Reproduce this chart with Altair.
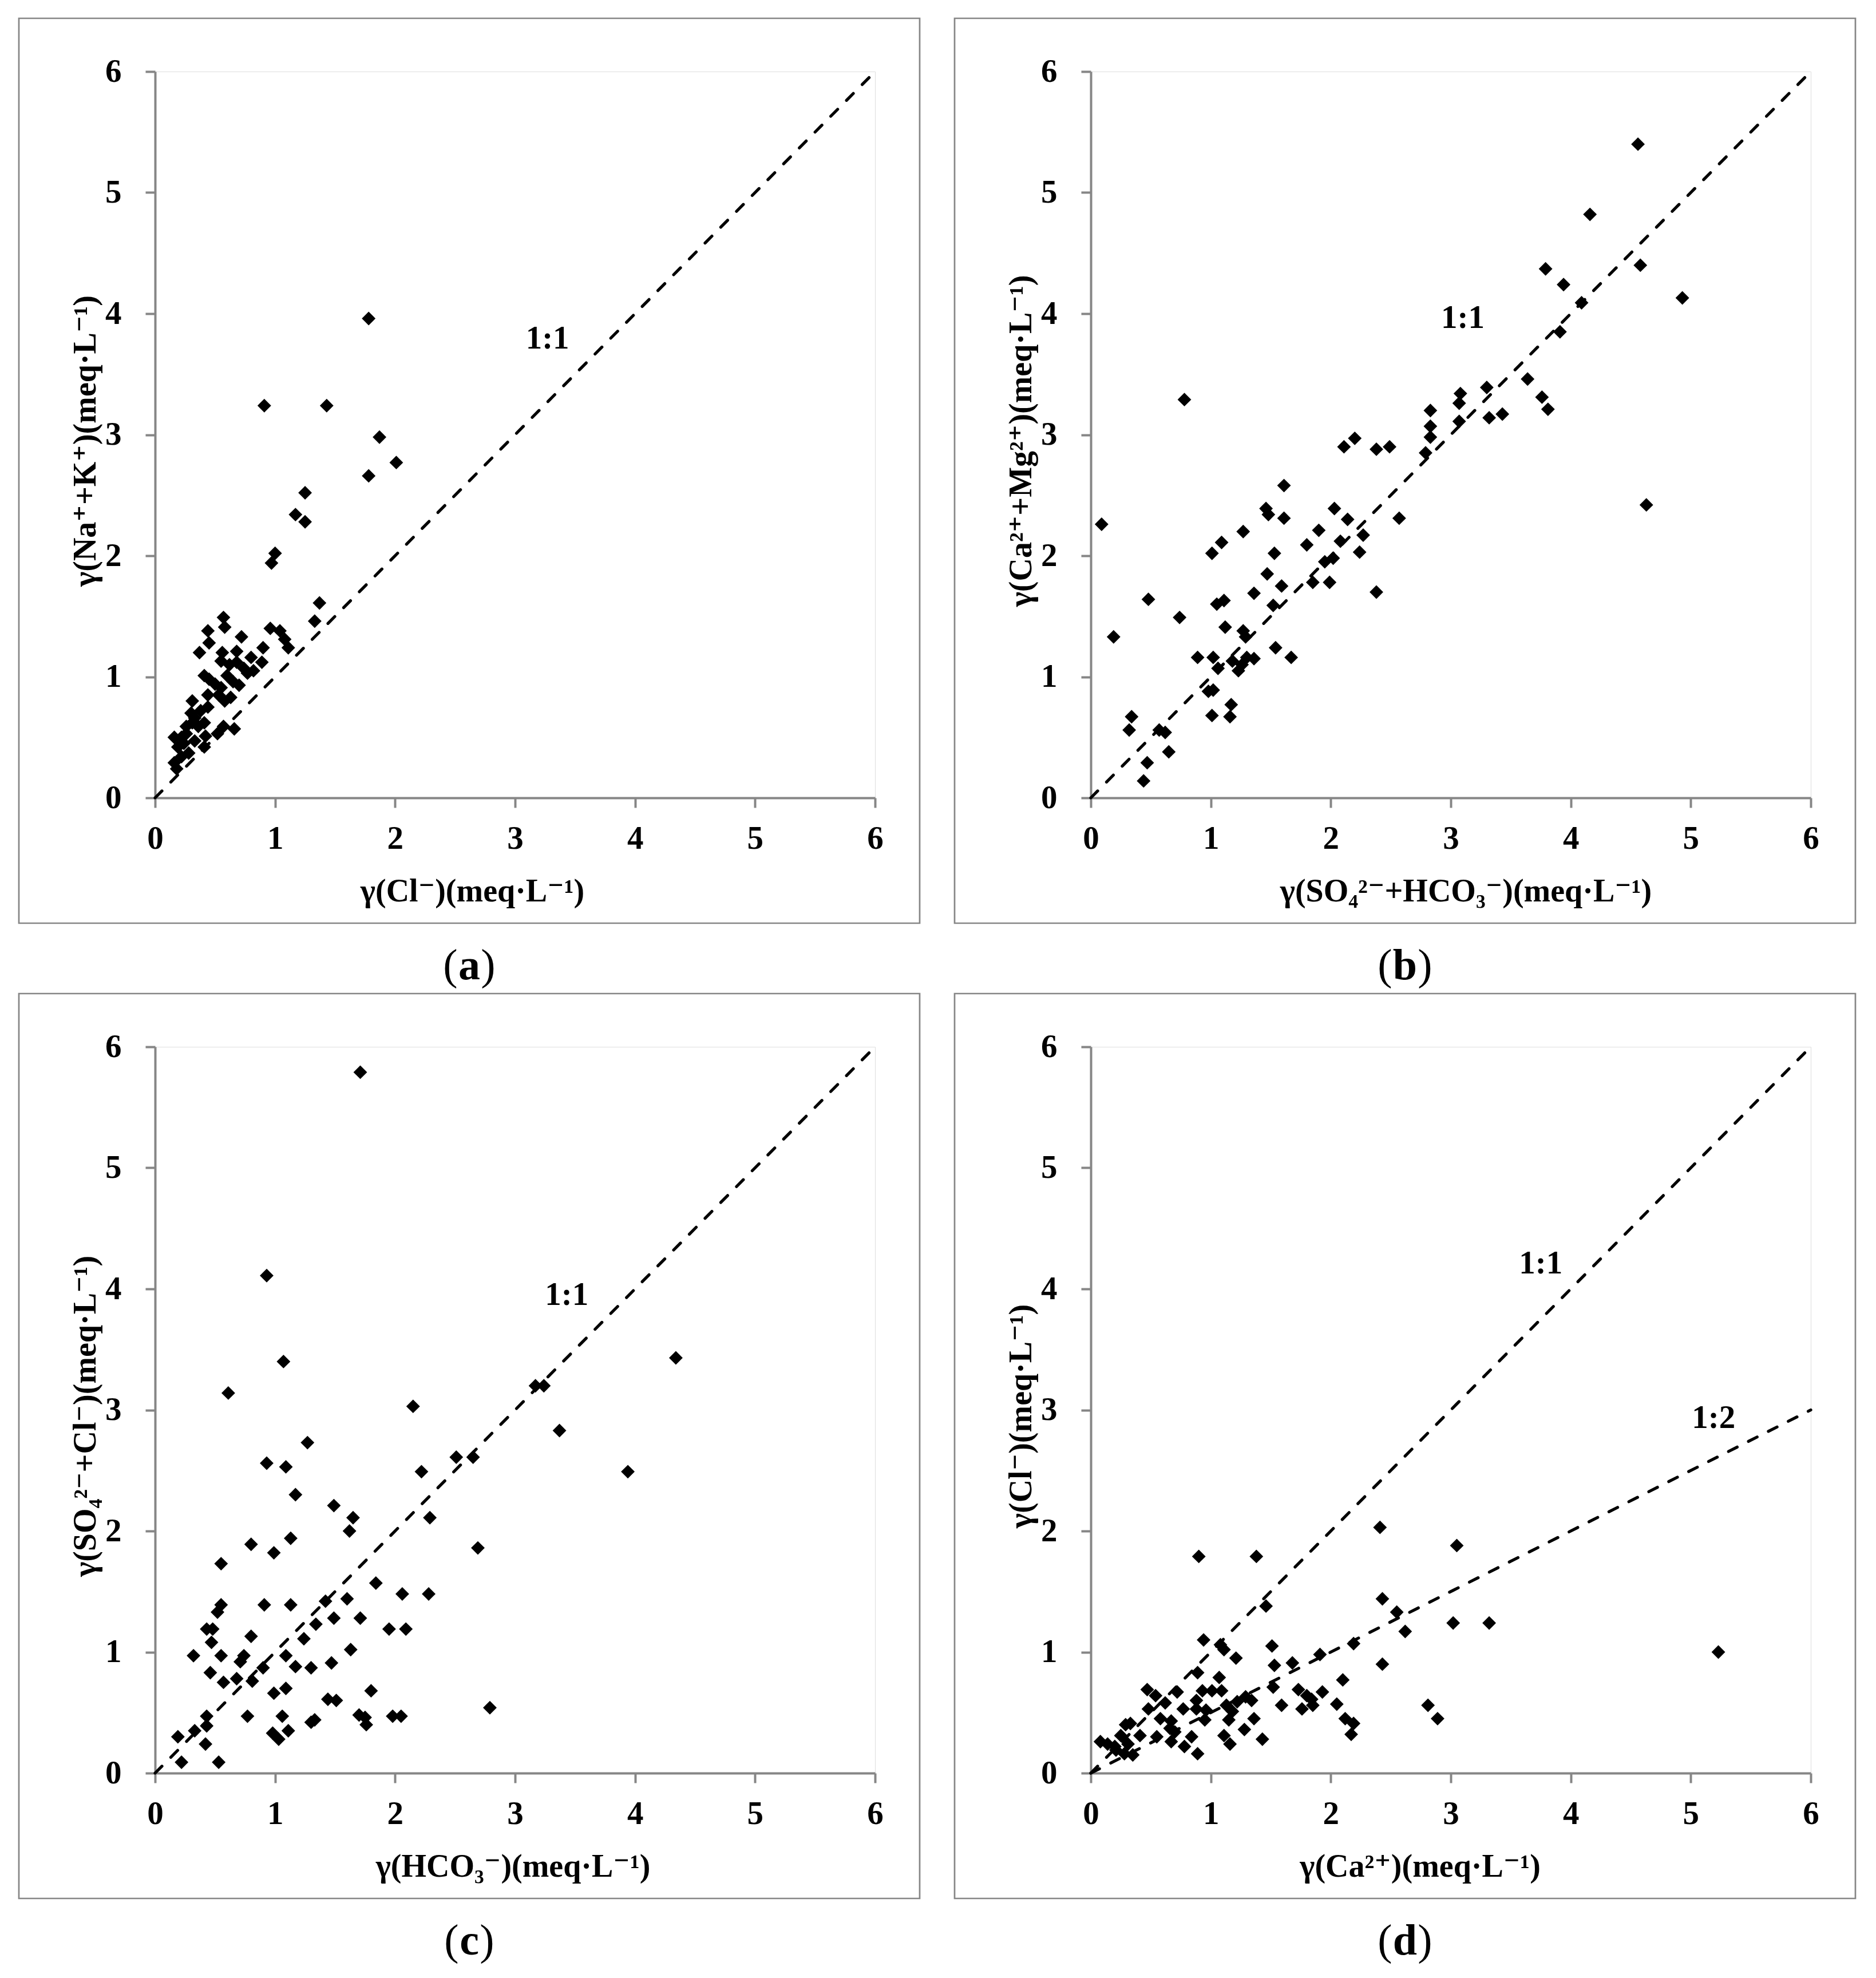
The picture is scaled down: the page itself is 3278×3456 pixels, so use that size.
import altair as alt
import pandas as pd

TICKS = [0, 1, 2, 3, 4, 5, 6]

# ---------------- data ----------------
a_points = [
    (0.91, 3.24), (1.43, 3.24), (1.78, 3.96), (1.87, 2.98), (1.78, 2.66), (2.01, 2.77),
    (1.25, 2.52), (1.17, 2.34), (1.25, 2.28), (1.00, 2.02), (0.97, 1.94),
    (1.37, 1.61), (1.33, 1.46), (0.96, 1.40), (1.04, 1.38), (1.08, 1.31), (1.11, 1.24),
    (0.57, 1.49), (0.58, 1.41), (0.44, 1.38), (0.45, 1.28), (0.72, 1.33), (0.37, 1.20),
    (0.56, 1.20), (0.68, 1.21), (0.90, 1.24), (0.80, 1.16), (0.89, 1.12), (0.82, 1.05),
    (0.55, 1.13), (0.62, 1.10), (0.68, 1.12), (0.74, 1.07), (0.77, 1.03), (0.41, 1.01),
    (0.45, 0.98), (0.50, 0.94), (0.60, 1.01), (0.65, 0.96), (0.70, 0.93), (0.55, 0.91),
    (0.44, 0.85), (0.58, 0.80), (0.63, 0.83), (0.53, 0.85), (0.31, 0.80), (0.38, 0.72),
    (0.44, 0.75), (0.30, 0.70), (0.31, 0.62), (0.26, 0.53), (0.41, 0.62), (0.36, 0.59),
    (0.57, 0.59), (0.66, 0.57), (0.52, 0.53), (0.42, 0.51), (0.16, 0.50), (0.24, 0.45),
    (0.33, 0.47), (0.41, 0.42), (0.19, 0.42), (0.16, 0.29), (0.18, 0.24), (0.22, 0.34),
    (0.28, 0.37), (0.22, 0.50), (0.26, 0.59), (0.33, 0.66),
]

b_points = [
    (0.09, 2.26), (0.19, 1.33), (0.32, 0.56), (0.34, 0.67), (0.48, 1.64), (0.47, 0.29),
    (0.44, 0.14), (0.57, 0.56), (0.62, 0.54), (0.65, 0.38), (0.74, 1.49), (0.78, 3.29),
    (0.89, 1.16), (0.98, 0.88), (1.02, 0.89), (1.02, 1.16), (1.01, 0.68), (1.01, 2.02),
    (1.09, 2.11), (1.05, 1.60), (1.11, 1.63), (1.06, 1.07), (1.12, 1.41), (1.18, 1.13),
    (1.17, 0.77), (1.16, 0.67), (1.23, 1.05), (1.26, 1.10), (1.27, 2.20), (1.27, 1.38),
    (1.29, 1.33), (1.30, 1.16), (1.36, 1.15), (1.36, 1.69), (1.46, 2.39), (1.48, 2.34),
    (1.47, 1.85), (1.53, 2.02), (1.52, 1.59), (1.54, 1.24), (1.59, 1.75), (1.61, 2.58),
    (1.61, 2.31), (1.67, 1.16), (1.80, 2.09), (1.85, 1.78), (1.90, 2.21), (1.95, 1.95),
    (1.99, 1.78), (2.02, 1.98), (2.03, 2.39), (2.08, 2.12), (2.11, 2.90), (2.20, 2.97),
    (2.14, 2.30), (2.27, 2.17), (2.24, 2.03), (2.38, 1.70), (2.38, 2.88), (2.49, 2.90),
    (2.57, 2.31), (2.79, 2.85), (2.83, 2.98), (2.83, 3.07), (2.83, 3.20), (3.07, 3.26),
    (3.08, 3.34), (3.07, 3.11), (3.30, 3.39), (3.32, 3.14), (3.43, 3.17), (3.64, 3.46),
    (3.76, 3.31), (3.81, 3.21), (3.79, 4.37), (3.91, 3.85), (3.94, 4.24), (4.09, 4.09),
    (4.16, 4.82), (4.56, 5.40), (4.58, 4.40), (4.63, 2.42), (4.93, 4.13),
]

c_points = [
    (1.71, 5.79), (0.93, 4.11), (1.07, 3.40), (0.61, 3.14), (2.15, 3.03), (3.17, 3.20),
    (3.24, 3.20), (4.34, 3.43), (3.37, 2.83), (3.94, 2.49), (1.27, 2.73), (0.93, 2.56),
    (1.09, 2.53), (2.51, 2.61), (2.65, 2.61), (2.22, 2.49), (1.17, 2.30), (1.49, 2.21),
    (1.65, 2.11), (2.29, 2.11), (1.62, 2.00), (1.13, 1.94), (0.80, 1.89), (0.99, 1.82),
    (2.69, 1.86), (0.55, 1.73), (1.84, 1.57), (2.06, 1.48), (2.28, 1.48), (1.42, 1.42),
    (1.60, 1.44), (0.91, 1.39), (1.13, 1.39), (0.55, 1.39), (0.52, 1.33), (1.49, 1.28),
    (1.71, 1.28), (1.34, 1.23), (1.95, 1.19), (2.09, 1.19), (0.43, 1.19), (0.48, 1.19),
    (0.80, 1.13), (1.24, 1.11), (0.47, 1.08), (1.63, 1.02), (0.32, 0.97), (0.55, 0.97),
    (0.74, 0.97), (1.09, 0.97), (0.71, 0.92), (1.47, 0.91), (0.90, 0.87), (1.17, 0.88),
    (1.30, 0.87), (0.46, 0.83), (0.57, 0.75), (0.68, 0.78), (0.81, 0.76), (0.99, 0.66),
    (1.80, 0.68), (1.09, 0.70), (1.44, 0.61), (1.51, 0.60), (2.79, 0.54), (1.70, 0.48),
    (1.75, 0.46), (1.98, 0.47), (2.05, 0.47), (0.77, 0.47), (1.06, 0.47), (0.43, 0.47),
    (1.30, 0.42), (1.33, 0.44), (1.76, 0.40), (1.11, 0.35), (0.98, 0.33), (1.03, 0.28),
    (0.19, 0.30), (0.33, 0.35), (0.43, 0.39), (0.42, 0.24), (0.22, 0.09), (0.53, 0.09),
]

d_points = [
    (5.23, 1.00), (2.41, 2.03), (3.05, 1.88), (0.90, 1.79), (1.38, 1.79), (2.43, 1.44),
    (1.46, 1.38), (2.55, 1.33), (3.02, 1.24), (3.32, 1.24), (2.62, 1.17), (0.94, 1.10),
    (1.11, 1.02), (1.08, 1.06), (1.51, 1.05), (1.21, 0.95), (1.53, 0.89), (1.68, 0.91),
    (1.91, 0.98), (2.19, 1.07), (2.43, 0.90), (0.89, 0.83), (1.07, 0.79), (2.10, 0.77),
    (1.52, 0.71), (1.73, 0.69), (1.80, 0.64), (1.84, 0.61), (1.85, 0.56), (1.93, 0.67),
    (2.05, 0.57), (2.81, 0.56), (2.89, 0.45), (1.59, 0.56), (1.76, 0.53), (2.12, 0.45),
    (2.19, 0.41), (2.17, 0.32), (1.36, 0.45), (1.28, 0.36), (1.43, 0.28), (1.16, 0.24),
    (1.11, 0.31), (1.15, 0.44), (1.18, 0.51), (1.13, 0.56), (1.22, 0.59), (1.29, 0.63),
    (1.34, 0.60), (0.93, 0.68), (1.01, 0.68), (1.09, 0.68), (0.88, 0.60), (0.96, 0.52),
    (0.95, 0.44), (0.88, 0.53), (0.77, 0.53), (0.72, 0.67), (0.47, 0.69), (0.54, 0.64),
    (0.62, 0.58), (0.48, 0.53), (0.58, 0.45), (0.67, 0.43), (0.66, 0.37), (0.70, 0.34),
    (0.55, 0.30), (0.67, 0.26), (0.78, 0.22), (0.84, 0.30), (0.89, 0.16), (0.41, 0.31),
    (0.29, 0.40), (0.33, 0.41), (0.25, 0.31), (0.08, 0.26), (0.14, 0.24), (0.21, 0.19),
    (0.31, 0.24), (0.35, 0.15), (0.28, 0.16), (0.20, 0.22),
]

# reference lines (name, x, y end points)
a_lines = [("1:1", 0, 0), ("1:1", 6, 6)]
b_lines = [("1:1", 0, 0), ("1:1", 6, 6)]
c_lines = [("1:1", 0, 0), ("1:1", 6, 6)]
d_lines = [("1:1", 0, 0), ("1:1", 6, 6), ("1:2", 0, 0), ("1:2", 6, 3)]

# line labels (text, x, y)
a_labels = [("1:1", 3.27, 3.79)]
b_labels = [("1:1", 3.10, 3.96)]
c_labels = [("1:1", 3.43, 3.95)]
d_labels = [("1:1", 3.75, 4.21), ("1:2", 5.19, 2.93)]

a_titles = ("γ(Cl⁻)(meq·L⁻¹)", "γ(Na⁺+K⁺)(meq·L⁻¹)")
b_titles = ("γ(SO₄²⁻+HCO₃⁻)(meq·L⁻¹)", "γ(Ca²⁺+Mg²⁺)(meq·L⁻¹)")
c_titles = ("γ(HCO₃⁻)(meq·L⁻¹)", "γ(SO₄²⁻+Cl⁻)(meq·L⁻¹)")
d_titles = ("γ(Ca²⁺)(meq·L⁻¹)", "γ(Cl⁻)(meq·L⁻¹)")

# ---------------- styling / layout ----------------
FONT = "Liberation Serif, DejaVu Serif, serif"
GRAY = "#868686"
W, H = 1258, 1269


def panel(points, lines, labels, titles, xtitle_x, letter, lw):
    xtitle, ytitle = titles
    sx = alt.Scale(domain=[0, 6], nice=False)
    sy = alt.Scale(domain=[0, 6], nice=False)
    common = dict(
        values=TICKS, grid=False, domainColor=GRAY, domainWidth=4,
        tickColor=GRAY, tickWidth=4, tickSize=17,
        labelFont=FONT, labelFontSize=57, labelFontWeight="bold", labelColor="black",
        labelFlush=False, labelOverlap=False, format="d",
        titleFont=FONT, titleFontSize=56, titleFontWeight="bold", titleColor="black",
    )
    xaxis = alt.Axis(title=xtitle, labelPadding=54, labelBaseline="middle",
                     titleX=xtitle_x, titleY=163, titleAlign="center",
                     titleBaseline="middle", **common)
    yaxis = alt.Axis(title=ytitle, labelPadding=42, titleX=-122, titleY=645,
                     titleAngle=270, titleAlign="center", titleBaseline="middle",
                     **common)
    X = alt.X("x:Q", scale=sx, axis=xaxis)
    Y = alt.Y("y:Q", scale=sy, axis=yaxis)

    one = pd.DataFrame({"k": [0]})
    frame = alt.Chart(one).mark_rect(opacity=0).encode(
        x=alt.value(-238), x2=alt.value(1336), y=alt.value(-93), y2=alt.value(1605))
    box = alt.Chart(one).mark_rect(fillOpacity=0, stroke=GRAY, strokeWidth=2.7).encode(
        x=alt.value(-238), x2=alt.value(1336), y=alt.value(-93), y2=alt.value(1488))

    ldf = pd.DataFrame(lines, columns=["line", "x", "y"])
    line = alt.Chart(ldf).mark_line(
        color="black", strokeWidth=5.2, strokeDash=[17, 22], strokeCap="round"
    ).encode(x=X, y=Y, detail="line:N")

    pdf = pd.DataFrame(points, columns=["x", "y"])
    pts = alt.Chart(pdf).mark_point(
        shape="diamond", filled=True, color="black", opacity=1, size=570, strokeWidth=0
    ).encode(x=X, y=Y)

    tdf = pd.DataFrame(labels, columns=["t", "x", "y"])
    txt = alt.Chart(tdf).mark_text(
        font=FONT, fontSize=57, fontWeight="bold", color="black",
        align="center", baseline="middle"
    ).encode(x=X, y=Y, text="t:N")

    cx, cy = 549, 1563
    lp = alt.Chart(one).mark_text(text="(", font=FONT, fontSize=76, color="black",
                                  align="center", baseline="middle").encode(
        x=alt.value(cx - lw), y=alt.value(cy))
    lt = alt.Chart(one).mark_text(text=letter, font=FONT, fontSize=76, fontWeight="bold",
                                  color="black", align="center", baseline="middle").encode(
        x=alt.value(cx), y=alt.value(cy))
    rp = alt.Chart(one).mark_text(text=")", font=FONT, fontSize=76, color="black",
                                  align="center", baseline="middle").encode(
        x=alt.value(cx + lw), y=alt.value(cy))

    return alt.layer(frame, box, line, pts, txt, lp, lt, rp).properties(width=W, height=H)


pa = panel(a_points, a_lines, a_labels, a_titles, 554, "a", 33)
pb = panel(b_points, b_lines, b_labels, b_titles, 655, "b", 35)
pc = panel(c_points, c_lines, c_labels, c_titles, 625, "c", 31)
pd_ = panel(d_points, d_lines, d_labels, d_titles, 575, "d", 35)

row1 = alt.hconcat(pa, pb, spacing=57)
row2 = alt.hconcat(pc, pd_, spacing=57)
chart = alt.vconcat(row1, row2, spacing=3).properties(
    padding={"left": 23, "top": 22, "right": 5, "bottom": 5}
).configure_view(strokeOpacity=0).configure(background="white")

chart.save("out.html", embed_options={"renderer": "svg", "actions": False})
